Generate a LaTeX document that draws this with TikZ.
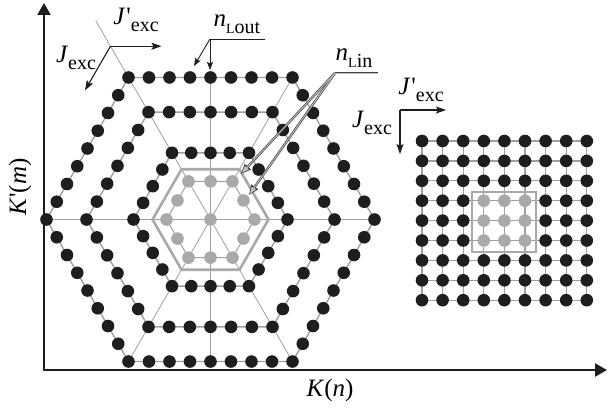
\documentclass[tikz,border=0pt]{standalone}
\usepackage{fontspec}
\usepackage{graphicx}
\setmainfont{Liberation Serif}
\usetikzlibrary{arrows.meta,calc}
\definecolor{dotgray}{HTML}{A9A9A9}
\definecolor{linegray}{HTML}{A0A0A0}
\definecolor{ink}{HTML}{1E1E1E}
\tikzset{
  spoke/.style={draw=linegray, line width=0.8pt},
  ringln/.style={draw=linegray, line width=1.4pt},
  inring/.style={draw=linegray, line width=1.0pt},
  sqln/.style={draw=linegray, line width=1.3pt},
  hexframe/.style={draw=dotgray, line width=2.6pt, line join=miter},
  bdot/.style={fill=ink},
  gdot/.style={fill=dotgray},
  axisln/.style={draw=ink, line width=2.4pt, line join=miter,
    {Triangle[length=12pt,width=13pt]}-{Triangle[length=12pt,width=13pt]}},
  jarrow/.style={draw=ink, line width=1.1pt, -{Stealth[length=10pt,width=7pt,inset=2pt]}},
  ptrline/.style={draw=ink, line width=0.9pt},
  ptr/.style={draw=ink, line width=0.9pt, -{Stealth[length=8pt,width=6pt,inset=1.5pt]}},
  outerptr/.style={draw=ink!85, line width=2.3pt, -{Triangle[length=10pt,width=8pt]}},
  innerptr/.style={draw=dotgray!70!white, line width=0.9pt, shorten >=1.6pt, -{Triangle[length=7pt,width=5pt]}},
  outerln/.style={draw=ink!85, line width=2.3pt},
  innerln/.style={draw=dotgray!70!white, line width=0.9pt},
  lbl/.style={font=\fontsize{25}{30}\selectfont, inner sep=0pt},
}
\newcommand\sbs[1]{\raisebox{-0.3em}{\fontsize{20}{20}\selectfont #1}}
\newcommand\smL{{\fontsize{14}{14}\selectfont L}}
\newcommand\Jexc{\textit{J}\sbs{exc}}
\newcommand\Jpexc{\textit{J}\kern1pt\textquotesingle\sbs{exc}}
\begin{document}
\begin{tikzpicture}[x=1pt,y=-1pt]
\useasboundingbox (0,0) rectangle (608,412);

% ---------- hexagonal lattice ----------
\coordinate (C) at (210.5,219.5);
\foreach \a in {0,...,5} \coordinate (V\a) at ($(C)+(60*\a:164)$);
\coordinate (Vt) at ($(V4)!0.5!(V5)$);
\coordinate (Vb) at ($(V1)!0.5!(V2)$);
\coordinate (JO) at ($(C)!1.22!(V4)$);
\coordinate (Xt) at ($(C)!1.40!(V4)$);
\draw[spoke] (V0) -- (V3);
\draw[spoke] (V2) -- (V5);
\draw[spoke] (V1) -- (Xt);
\draw[spoke] (Vt) -- (Vb);

\foreach \k/\R/\st in {2/44/inring,4/77/ringln,6/124/ringln,8/164/ringln} {
  \draw[\st] ($(C)+(0:\R)$) -- ($(C)+(60:\R)$) -- ($(C)+(120:\R)$) -- ($(C)+(180:\R)$)
     -- ($(C)+(240:\R)$) -- ($(C)+(300:\R)$) -- cycle;
}
\draw[hexframe] ($(C)+(0:58)$) -- ($(C)+(60:58)$) -- ($(C)+(120:58)$) -- ($(C)+(180:58)$)
     -- ($(C)+(240:58)$) -- ($(C)+(300:58)$) -- cycle;

\foreach \k/\R/\s in {2/44/gdot,4/77/bdot,6/124/bdot,8/164/bdot} {
  \pgfmathtruncatemacro\km{\k-1}
  \foreach \i in {0,...,5} {
    \foreach \j [evaluate=\j as \t using \j/\k] in {0,...,\km} {
      \fill[\s] ($(C)+(60*\i:\R)!\t!(60*\i+60:\R)$) circle (6.3pt);
    }
  }
}
\fill[gdot] (C) circle (6.3pt);

% ---------- square lattice ----------
\foreach \i in {0,...,8} {
  \draw[sqln] ({422+20.6*\i},141) -- ({422+20.6*\i},300.2);
  \draw[sqln] (422,{141+19.9*\i}) -- (586.8,{141+19.9*\i});
}
\draw[hexframe] (472,192) rectangle (536,252);
\foreach \i in {0,...,8} {
  \foreach \j in {0,...,8} {
    \pgfmathtruncatemacro\inner{(\i>2)*(\i<6)*(\j>2)*(\j<6)}
    \ifnum\inner=1 \def\sty{gdot}\else\def\sty{bdot}\fi
    \fill[\sty] ({422+20.6*\i},{141+19.9*\j}) circle (6.3pt);
  }
}

% ---------- axes ----------
\coordinate (O) at (44,370);
\coordinate (Ytip) at (44,3);
\coordinate (Xtip) at (607,370);
\draw[axisln] (Ytip) -- (O) -- (Xtip);
\node[lbl] (Kn) at (330,390) {\textit{K}(\textit{n})};
\node[lbl, rotate=90] (Km) at (20,187) {\textit{K}\textquotesingle(\textit{m})};

% ---------- J axes (hexagonal) ----------
\coordinate (JOr) at ($(JO)+(51,0)$);
\coordinate (JOd) at ($(JO)+(120:51)$);
\draw[jarrow] (JO) -- (JOr);
\draw[jarrow] (JO) -- (JOd);
\node[lbl] (Jp1) at (136,20) {\Jpexc};
\node[lbl] (J1) at (76,58) {\Jexc};

% ---------- J axes (square) ----------
\coordinate (SO) at (400,110);
\coordinate (SOr) at (446,110);
\coordinate (SOd) at (400,154);
\draw[jarrow] (SO) -- (SOr);
\draw[jarrow] (SO) -- (SOd);
\node[lbl] (Jp2) at (421,90) {\Jpexc};
\node[lbl] (J2) at (372,123) {\Jexc};

% ---------- n_Lout ----------
\node[lbl] (nout) at (237,24) {\textit{n}\sbs{\smL out}};
\coordinate (oc) at (210,39);
\coordinate (oe) at (265,39);
\coordinate (ot1) at (210,70);
\coordinate (ot2) at (194,66);
\draw[ptrline] (oc) -- (oe);
\draw[ptr] (oc) -- (ot1);
\draw[ptr] (oc) -- (ot2);

% ---------- n_Lin ----------
\node[lbl] (nin) at (354,58) {\textit{n}\sbs{\smL in}};
\coordinate (ic) at (335,73);
\coordinate (ie) at (378,73);
\coordinate (it1) at (241,174);
\coordinate (it2) at (249,195);
\draw[outerln] (ic) -- (ie);
\draw[outerptr] (ic) -- (it1);
\draw[outerptr] (ic) -- (it2);
\draw[innerln] (ic) -- (ie);
\draw[innerptr] (ic) -- (it1);
\draw[innerptr] (ic) -- (it2);
\end{tikzpicture}
\end{document}
